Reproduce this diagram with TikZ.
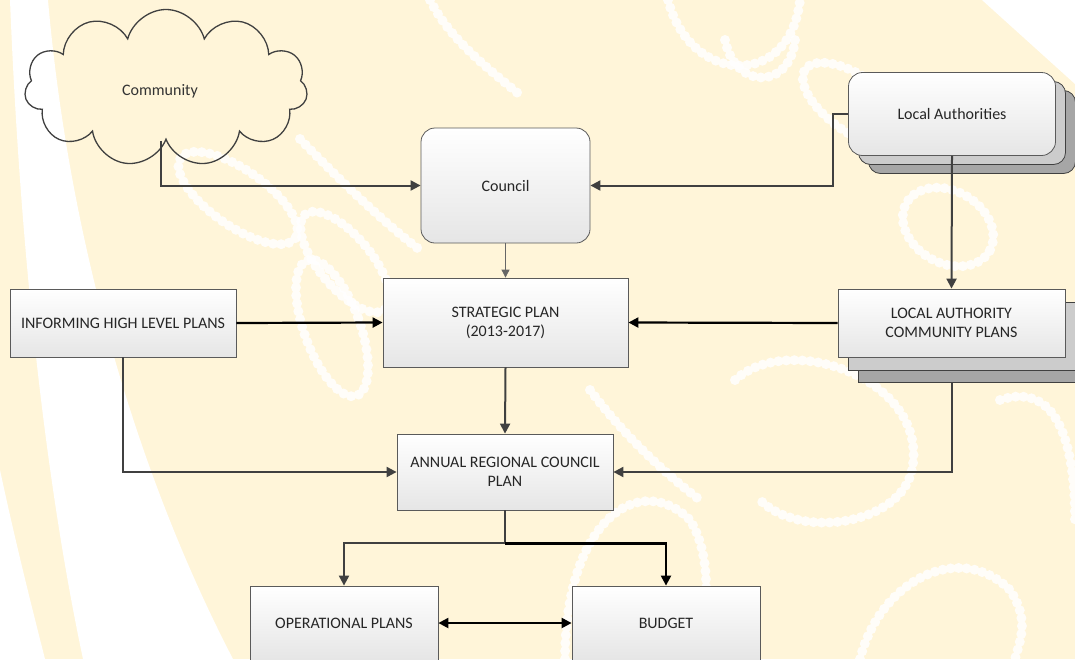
\documentclass[tikz,border=0pt]{standalone}
\usepackage{fontspec}
\setmainfont{Carlito}
\usetikzlibrary{arrows.meta,shapes.symbols,shadows}
\definecolor{bgcream}{HTML}{FFF5D9}
\definecolor{linegray}{HTML}{404040}
\definecolor{boxline}{HTML}{5A5A5A}
\begin{document}
\begin{tikzpicture}[x=1pt,y=-1pt,
  every node/.style={font=\fontsize{16}{19}\selectfont, text=black!85, align=center, inner sep=0pt},
  boxstyle/.style={draw=boxline, line width=0.8pt, top color=white, bottom color=black!10, minimum width=#1},
  roundbox/.style={boxstyle=#1, rounded corners=14pt},
  layerA/.style={draw=black!75, line width=0.8pt, fill=black!20},
  layerB/.style={draw=black!75, line width=0.8pt, fill=black!35},
  conn/.style={draw=linegray, line width=2pt, -{Triangle[length=10pt,width=10pt]}},
  connb/.style={draw=black, line width=2.2pt, -{Triangle[length=10pt,width=10pt]}},
  thin/.style={draw=black!60, line width=0.8pt, -{Triangle[length=8pt,width=8pt]}},
  beads/.style={draw=white, line width=10pt, dash pattern=on 0pt off 8pt, line cap=round, opacity=0.85},
]
\useasboundingbox (0,0) rectangle (1075,659);
% background watermark approximation
\begin{scope}
\clip (0,0) rectangle (1075,659);
\fill[bgcream] (0,0) rectangle (1075,659);
% white band on the left
\fill[white] (48,0) .. controls (70,250) and (140,480) .. (233,659)
  -- (83,659) .. controls (45,480) and (20,250) .. (10,0) -- cycle;
\fill[white] (0,470) .. controls (15,540) and (30,600) .. (45,659) -- (0,659) -- cycle;
% white corner top right
\fill[white] (982,0) -- (1075,84) -- (1075,0) -- cycle;
% beads
\draw[beads] (668,0) .. controls (690,85) and (790,90) .. (800,0);
\draw[beads] (725,40) .. controls (735,90) and (790,90) .. (795,40);
\draw[beads, rotate around={-35:(856,105)}] (856,105) ellipse (62 and 28);
\draw[beads, rotate around={-30:(948,227)}] (948,227) ellipse (48 and 36);
\draw[beads, rotate around={20:(332,328)}] (332,328) ellipse (28 and 72);
\draw[beads, rotate around={-35:(238,198)}] (238,198) ellipse (70 and 28);
\draw[beads, rotate around={-50:(345,262)}] (345,262) ellipse (62 and 26);
\draw[beads] (735,380) .. controls (790,330) and (930,380) .. (912,470) .. controls (900,525) and (800,540) .. (760,500);
\draw[beads] (565,659) .. controls (565,520) and (640,470) .. (690,520) .. controls (715,560) and (705,620) .. (700,659);
\draw[beads] (1000,400) .. controls (1060,380) and (1075,450) .. (1075,520);
\draw[beads] (860,659) .. controls (880,580) and (960,540) .. (1010,590) .. controls (1030,620) and (1020,640) .. (1015,659);
\draw[beads] (300,139) .. controls (330,170) and (380,220) .. (420,250);
\draw[beads] (430,0) .. controls (450,40) and (490,70) .. (520,95);
\draw[beads] (590,390) .. controls (620,430) and (660,470) .. (700,500);
\end{scope}

% Community cloud
\node[cloud, cloud puffs=11, aspect=1.8, draw=black!75, line width=1.3pt,
  minimum width=283, minimum height=157] (cloud) at (166,88) {};
\node[text=black!80] (commtxt) at (160,91) {Community};

% Council
\node[roundbox=169, minimum height=115] (council) at (505.5,185.5) {Council};

% Local Authorities stack
\node[layerB, rounded corners=12pt, minimum width=207, minimum height=83] (la3) at (972,132) {};
\node[layerA, rounded corners=12pt, minimum width=207, minimum height=83] (la2) at (962,123) {};
\node[roundbox=207, minimum height=83] (la) at (952,114) {Local Authorities};

% Strategic plan
\node[boxstyle=245, minimum height=89] (sp) at (505.5,322.5) {STRATEGIC PLAN\\(2013-2017)};

% Informing high level plans
\node[boxstyle=226, minimum height=68] (ihlp) at (123,323) {INFORMING HIGH LEVEL PLANS};

% Local authority community plans stack
\node[layerB, minimum width=227, minimum height=68] (lacp3) at (971.5,348) {};
\node[layerA, minimum width=227, minimum height=68] (lacp2) at (961.5,336) {};
\node[boxstyle=227, minimum height=68] (lacp) at (951.5,323) {LOCAL AUTHORITY\\COMMUNITY PLANS};

% Annual
\node[boxstyle=216, minimum height=76] (annual) at (505,472) {ANNUAL REGIONAL COUNCIL\\PLAN};

% Operational and budget
\node[boxstyle=188, minimum height=74] (op) at (344,623) {OPERATIONAL PLANS};
\node[boxstyle=188, minimum height=74] (budget) at (666,623) {BUDGET};

% connectors
\coordinate (cloudout) at ([xshift=-5pt]cloud.south);
\draw[conn] (cloudout) |- (council.west);
\coordinate (lajog) at ([xshift=-15pt]la.west);
\draw[conn] (la.west) -- (lajog) |- (council.east);
\draw[conn] (la.south) -- (lacp.north);
\draw[thin] (council.south) -- (sp.north);
\draw[connb] (ihlp.east) -- (sp.west);
\draw[connb] (lacp.west) -- (sp.east);
\draw[conn] (sp.south) -- (annual.north);
\draw[conn] (ihlp.south) |- (annual.west);
\coordinate (lacpout) at (lacp.center |- lacp3.south);
\draw[conn] (lacpout) |- (annual.east);
\coordinate (split) at ([yshift=-33pt]annual.south);
\draw[conn] (annual.south) -- (split) -| (op.north);
\draw[connb] (split) -| (budget.north);
\draw[connb, {Triangle[length=10pt,width=10pt]}-{Triangle[length=10pt,width=10pt]}] (op.east) -- (budget.west);
\end{tikzpicture}
\end{document}
